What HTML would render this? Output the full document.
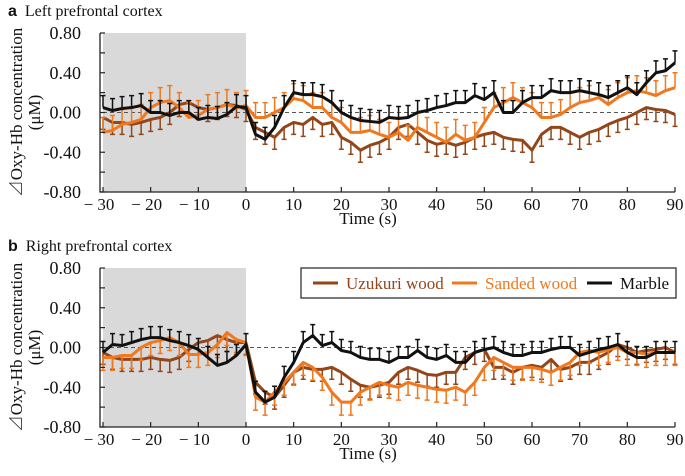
<!DOCTYPE html>
<html><head><meta charset="utf-8"><style>
body{margin:0;background:#fff}
svg text{font-family:"Liberation Serif","Noto Serif CJK SC",serif;fill:#111}
</style></head><body>
<svg id="c" width="685" height="471"></svg>
<script>
const times=[];for(let t=-30;t<=90;t+=2)times.push(t);
const xTicks=[-30,-20,-10,0,10,20,30,40,50,60,70,80,90];
const xTickLabels=["\u2212 30","\u2212 20","\u2212 10","0","10","20","30","40","50","60","70","80","90"];
const yTicks=[0.8,0.4,0,-0.4,-0.8];
const yTickLabels=["0.80","0.40","0.00","-0.40","-0.80"];
const seriesNames=["Uzukuri wood","Sanded wood","Marble"];
const aBlack=[0.05,0.02,0.04,0.05,0.07,0.0,0.0,-0.03,0.0,0.0,-0.07,-0.05,-0.06,-0.02,0.06,0.05,-0.22,-0.27,-0.15,0.05,0.2,0.18,0.18,0.16,0.1,0.0,-0.05,-0.08,-0.09,-0.1,-0.05,-0.06,-0.05,0.0,0.02,0.05,0.07,0.1,0.1,0.17,0.13,0.2,0.0,0.0,0.1,0.15,0.15,0.22,0.2,0.2,0.22,0.2,0.18,0.15,0.2,0.25,0.18,0.3,0.4,0.42,0.5];
const aOrange=[-0.2,-0.18,-0.12,-0.1,-0.07,0.05,0.1,0.12,0.05,-0.05,-0.03,0.03,0.05,0.08,0.05,0.07,-0.05,-0.05,0.0,0.05,0.14,0.12,0.05,0.05,-0.05,-0.1,-0.2,-0.2,-0.18,-0.22,-0.25,-0.2,-0.28,-0.15,-0.2,-0.25,-0.3,-0.22,-0.28,-0.25,-0.1,0.05,0.1,0.15,0.1,0.05,-0.05,-0.05,-0.02,0.05,0.1,0.12,0.15,0.08,0.15,0.2,0.22,0.2,0.17,0.22,0.25];
const aBrown=[-0.05,-0.1,-0.1,-0.12,-0.1,-0.07,-0.05,0.0,0.08,0.1,0.05,0.03,0.05,0.08,0.07,0.03,-0.15,-0.2,-0.25,-0.15,-0.1,-0.12,-0.05,-0.12,-0.1,-0.25,-0.3,-0.38,-0.33,-0.3,-0.25,-0.15,-0.12,-0.2,-0.28,-0.32,-0.3,-0.33,-0.3,-0.25,-0.22,-0.2,-0.25,-0.27,-0.28,-0.38,-0.22,-0.15,-0.15,-0.2,-0.25,-0.2,-0.17,-0.12,-0.08,-0.05,0.0,0.05,0.03,0.02,-0.02];
const bBlack=[-0.05,0.03,0.02,0.05,0.08,0.1,0.1,0.07,0.05,0.02,-0.02,-0.1,-0.18,-0.15,-0.08,0.03,-0.45,-0.55,-0.5,-0.3,-0.15,0.05,0.12,0.02,0.05,-0.03,-0.05,-0.1,-0.12,-0.12,-0.15,-0.1,-0.1,-0.03,-0.1,-0.12,-0.08,-0.15,-0.15,-0.05,-0.02,0.0,-0.05,-0.08,-0.08,-0.05,-0.05,-0.02,0.0,0.0,-0.08,-0.05,-0.02,0.0,0.03,-0.05,-0.1,-0.1,-0.05,-0.05,-0.05];
const bOrange=[-0.1,-0.1,-0.08,-0.08,0.0,0.05,0.07,0.1,0.05,-0.07,-0.07,-0.05,0.03,0.15,0.08,0.05,-0.5,-0.55,-0.45,-0.35,-0.25,-0.15,-0.2,-0.3,-0.45,-0.55,-0.55,-0.45,-0.4,-0.35,-0.38,-0.4,-0.35,-0.38,-0.4,-0.42,-0.43,-0.4,-0.45,-0.35,-0.2,-0.1,-0.15,-0.2,-0.2,-0.2,-0.22,-0.25,-0.2,-0.15,-0.05,-0.03,-0.05,-0.02,0.0,-0.05,-0.05,-0.07,-0.05,-0.05,-0.05];
const bBrown=[-0.05,-0.1,-0.12,-0.12,-0.12,-0.1,-0.12,-0.13,-0.1,-0.02,0.05,0.07,0.12,0.08,0.05,0.05,-0.35,-0.45,-0.5,-0.38,-0.25,-0.2,-0.22,-0.22,-0.2,-0.25,-0.32,-0.38,-0.4,-0.38,-0.35,-0.25,-0.2,-0.23,-0.27,-0.28,-0.25,-0.25,-0.1,-0.05,-0.02,-0.2,-0.2,-0.25,-0.2,-0.18,-0.2,-0.12,-0.22,-0.2,-0.15,-0.15,-0.1,-0.05,0.03,0.0,-0.05,-0.03,-0.02,0.0,-0.05];
const aErr=[0.12,0.15,0.12];const bErr=[0.12,0.13,0.11];

const NS="http://www.w3.org/2000/svg",svg=document.getElementById('c');
function el(tag,attrs,parent,txt){const e=document.createElementNS(NS,tag);for(const k in attrs)e.setAttribute(k,attrs[k]);if(txt!==undefined)e.textContent=txt;(parent||svg).appendChild(e);return e;}
const colors=["#93461a","#f0781e","#111111"];
function panel(id,top,bottom,letter,title,data,errs,dirs){
  const g=el('g',{},svg);
  
  
  const X=t=>103+(t+30)*(675-103)/120;
  const Y=v=>top+(0.8-v)*(bottom-top)/1.6;
  const sh=el('rect',{x:X(-30),y:top,width:X(0)-X(-30),height:bottom-top,fill:'#d9d9d9'},g);
  
  
  const zl=el('line',{x1:X(-30),x2:X(90),y1:Y(0),y2:Y(0),stroke:'#555','stroke-dasharray':'4,3','stroke-width':1},g);
  
  
  data.forEach((arr,si)=>{
    const sg=el('g',{},g);
    
    
    arr.forEach((v,i)=>{const x=X(times[i]),y1=Y(v),y2=Y(v+dirs[si]*errs[si]);
      const b=el('path',{d:`M${x},${y1}V${y2}M${x-2.5},${y2}H${x+2.5}`,stroke:colors[si],'stroke-width':1.5,fill:'none'},sg);
      
      });
    const p=el('polyline',{points:arr.map((v,i)=>X(times[i])+','+Y(v)).join(' '),fill:'none',stroke:colors[si],'stroke-width':3,'stroke-linejoin':'round'},sg);
    
    
  });
  const ax=el('path',{d:`M100,${top}V${bottom}H${X(90)}`,stroke:'#222','stroke-width':1.3,fill:'none'},g);
  
  
  for(let v=-0.8;v<=0.81;v+=0.2){el('line',{x1:100,x2:105,y1:Y(v),y2:Y(v),stroke:'#222','stroke-width':1.2},g);}
  yTicks.forEach((v,i)=>{const t=el('text',{x:81,y:Y(v)+6,'text-anchor':'end','font-size':18},g,yTickLabels[i]);
    
    });
  xTicks.forEach((v,i)=>{el('line',{x1:X(v),x2:X(v),y1:bottom,y2:bottom-5,stroke:'#222','stroke-width':1.2},g);
    const t=el('text',{x:X(v)+(v<0?-4:0),y:bottom+18,'text-anchor':'middle','font-size':17},g,xTickLabels[i]);
    
    });
  const xt=el('text',{x:368,y:bottom+32,'text-anchor':'middle','font-size':17},g,'Time (s)');
  
  
  const tt=el('text',{x:8,y:top-17,'font-size':16},g);
  
  
  el('tspan',{'font-family':'Liberation Sans, sans-serif','font-weight':'bold'},tt,letter);
  el('tspan',{dx:8},tt,title);
  const cy=(top+bottom)/2;
  const yt=el('text',{transform:`translate(22,${cy}) rotate(-90)`,'text-anchor':'middle','font-size':17},g,'\u22bfOxy-Hb concentration');
  
  
  const yu=el('text',{transform:`translate(40,${cy}) rotate(-90)`,'text-anchor':'middle','font-size':17},g,'(\u03bcM)');
  
  
}
panel('a',33,192,'a','Left prefrontal cortex',[aBrown,aOrange,aBlack],aErr,[-1,1,1]);
panel('b',268,427,'b','Right prefrontal cortex',[bBrown,bOrange,bBlack],bErr,[-1,-1,1]);
const lg=el('g',{});


el('rect',{x:301,y:268,width:375,height:30,fill:'#fff',stroke:'#222','stroke-width':1.2},lg);
const lx=[313,452,587],tw=["Uzukuri wood","Sanded wood","Marble"];
tw.forEach((n,i)=>{const e=el('g',{},lg);
  
  
  el('line',{x1:lx[i],x2:lx[i]+25,y1:283,y2:283,stroke:colors[i],'stroke-width':3},e);
  el('text',{x:lx[i]+33,y:289,'font-size':17,style:'fill:'+(i==2?'#111':colors[i])},e,n);});
</script>
</body></html>
